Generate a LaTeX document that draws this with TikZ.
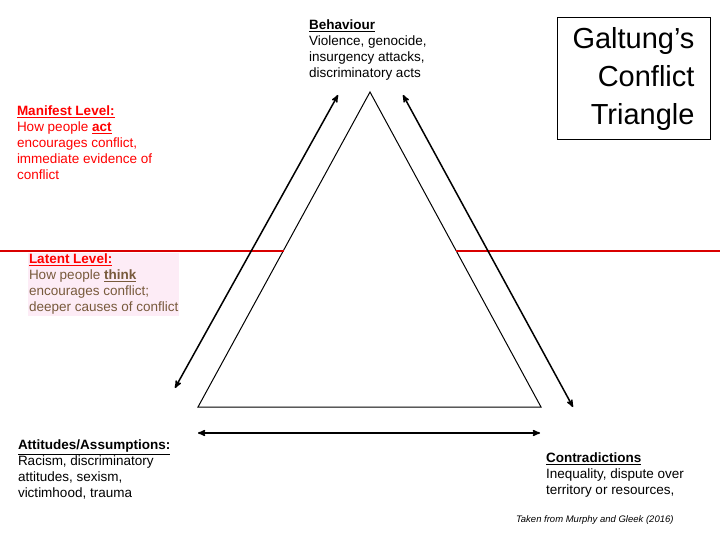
\documentclass[tikz,border=0pt]{standalone}
\usepackage{fontspec}
\setmainfont{Liberation Sans}
\usetikzlibrary{arrows}
\definecolor{latentbg}{RGB}{253,236,246}
\definecolor{latentfg}{RGB}{120,90,60}
\begin{document}
\begin{tikzpicture}[x=1pt,y=-1pt,
    every node/.style = {inner sep=0pt, outer sep=0pt, anchor=north west, align=left,
                         font=\fontsize{13.5}{16}\selectfont},
    twoway/.style = {<->, >=stealth', line width=1.5pt},
    level line/.style = {red!85!black, line width=1.3pt}
    ]
    \useasboundingbox (0,0) rectangle (720,540);
    % triangle
    \coordinate (top) at (370,92);
    \coordinate (bl) at (198,407);
    \coordinate (br) at (541,407);
    \draw[line width=1pt] (top) -- (bl) -- (br) -- cycle;
    % level line
    \coordinate (l0) at (0,251);
    \coordinate (l1) at (284,251);
    \coordinate (r0) at (456,251);
    \coordinate (r1) at (720,251);
    \draw[level line] (l0) -- (l1);
    \draw[level line] (r0) -- (r1);
    % arrows
    \coordinate (a1) at (175,388);
    \coordinate (a2) at (338,95);
    \coordinate (b1) at (403,95);
    \coordinate (b2) at (573,407);
    \coordinate (c1) at (198,433);
    \coordinate (c2) at (540,433);
    \draw[twoway] (a1) -- (a2);
    \draw[twoway] (b1) -- (b2);
    \draw[twoway] (c1) -- (c2);
    % title
    \node[draw, line width=1pt, anchor=center, minimum width=153pt, minimum height=122pt,
          align=right, font=\fontsize{29}{38}\selectfont] (title) at (633.5,79)
        {Galtung's\\Conflict\\Triangle};
    % corners
    \node (behaviour) at (309,20) {\textbf{\underline{Behaviour}}\\Violence, genocide,\\insurgency attacks,\\discriminatory acts};
    \node (attitudes) at (18,440) {\textbf{\underline{Attitudes/Assumptions:}}\\Racism, discriminatory\\attitudes, sexism,\\victimhood, trauma};
    \node (contra) at (546,453) {\textbf{\underline{Contradictions}}\\Inequality, dispute over\\territory or resources,};
    % levels
    \node[text=red] (manifest) at (17,106) {\textbf{\underline{Manifest Level:}}\\How people \textbf{\underline{act}}\\encourages conflict,\\immediate evidence of\\conflict};
    \node[fill=latentbg, text=latentfg, inner sep=1pt] (latent) at (28,253) {\textcolor{red}{\textbf{\underline{Latent Level:}}}\\How people \textbf{\underline{think}}\\encourages conflict;\\deeper causes of conflict};
    \node[font=\fontsize{9.5}{11}\selectfont\itshape] (source) at (516,516) {Taken from Murphy and Gleek (2016)};
\end{tikzpicture}
\end{document}
